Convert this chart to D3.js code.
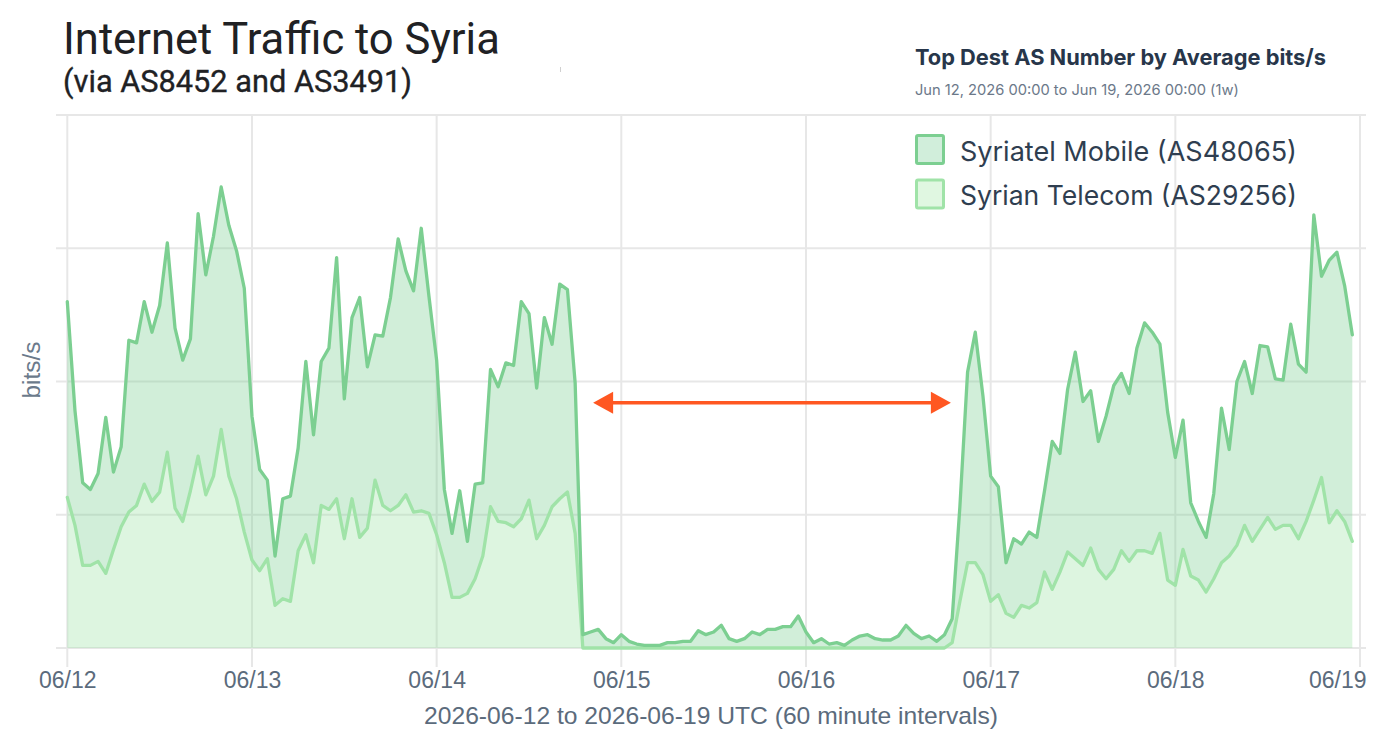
<!DOCTYPE html>
<html><head><meta charset="utf-8">
<script src="https://cdn.jsdelivr.net/npm/d3@7"></script>
<style>html,body{margin:0;padding:0;background:#fff;} svg{display:block;}</style>
</head><body><svg id="chart" width="1397" height="756"></svg>
<script>
// ---------------- data ----------------
const startTime = "2026-06-12T00:00:00Z";
const endTime = "2026-06-19T00:00:00Z";
const intervalHours = 1;
const seriesKeys = ["telecom", "mobile"];
const seriesNames = ["Syriatel Mobile (AS48065)", "Syrian Telecom (AS29256)"];

// Syrian Telecom (AS29256), hourly, bottom layer
const syrianTelecom = [
  11.3, 9.2, 6.2, 6.2, 6.5, 5.6, 7.4, 9.1, 10.2, 10.7, 12.3, 11.0, 11.7, 14.7, 10.5, 9.5, 11.8, 14.4, 11.5, 12.9, 16.4, 12.9, 11.2, 8.7,
  6.6, 5.8, 6.7, 3.2, 3.7, 3.5, 7.3, 8.5, 6.4, 10.7, 10.4, 11.2, 8.2, 11.2, 8.3, 9.0, 12.6, 10.7, 10.3, 10.7, 11.5, 10.2, 10.3, 10.1,
  8.5, 6.4, 3.8, 3.8, 4.1, 5.2, 6.9, 10.6, 9.5, 9.4, 9.1, 9.7, 11.1, 8.2, 9.2, 10.6, 11.2, 11.7, 8.6, 0, 0, 0, 0, 0,
  0, 0, 0, 0, 0, 0, 0, 0, 0, 0, 0, 0, 0, 0, 0, 0, 0, 0, 0, 0, 0, 0, 0, 0,
  0, 0, 0, 0, 0, 0, 0, 0, 0, 0, 0, 0, 0, 0, 0, 0, 0, 0, 0, 0.4, 3.5, 6.4, 6.4, 5.5,
  3.5, 4.0, 2.6, 2.3, 3.2, 3.0, 3.4, 5.7, 4.4, 5.7, 7.2, 6.7, 6.2, 7.5, 5.9, 5.2, 5.9, 7.3, 6.5, 7.3, 7.3, 7.1, 8.6, 5.1,
  4.7, 7.4, 5.4, 5.1, 4.2, 5.2, 6.4, 6.9, 7.7, 9.2, 8.0, 8.9, 9.8, 8.9, 9.2, 9.2, 8.2, 9.5, 11.1, 12.8, 9.4, 10.3, 9.5, 8.0
];
// Syriatel Mobile (AS48065), hourly, stacked on top
const syriatelMobile = [
  14.7, 8.6, 6.2, 5.7, 6.6, 11.7, 5.8, 6.0, 12.9, 12.2, 13.7, 12.7, 14.0, 15.7, 13.5, 12.1, 11.4, 18.2, 16.5, 18.0, 18.2, 18.8, 18.6, 18.3,
  10.8, 7.6, 5.9, 3.7, 7.5, 7.9, 7.7, 13.0, 9.6, 10.8, 12.1, 18.1, 10.5, 13.6, 18.0, 12.1, 10.9, 12.7, 16.0, 20.0, 16.8, 16.6, 21.2, 16.3,
  13.1, 5.5, 4.8, 8.0, 3.9, 7.1, 5.5, 10.3, 10.1, 12.0, 12.1, 16.3, 14.0, 11.3, 15.6, 12.2, 16.1, 15.2, 11.3, 1.0, 1.2, 1.4, 0.7, 0.4,
  1.0, 0.5, 0.3, 0.2, 0.2, 0.2, 0.4, 0.4, 0.5, 0.5, 1.3, 1.0, 1.2, 1.7, 0.7, 0.5, 0.7, 1.2, 1.0, 1.4, 1.4, 1.6, 1.6, 2.4,
  1.2, 0.4, 0.7, 0.3, 0.4, 0.2, 0.6, 0.9, 1.0, 0.7, 0.6, 0.6, 0.9, 1.7, 1.1, 0.7, 0.9, 0.5, 1.0, 1.8, 7.1, 14.3, 17.3, 13.4,
  9.4, 8.1, 3.8, 5.9, 4.6, 5.7, 4.9, 6.1, 11.1, 8.9, 12.2, 15.5, 12.3, 11.8, 9.6, 12.2, 13.8, 13.3, 12.6, 15.2, 17.1, 16.6, 14.2, 12.6,
  9.6, 9.7, 5.5, 4.4, 4.1, 6.4, 11.6, 8.0, 12.3, 12.3, 11.1, 13.8, 12.8, 11.3, 10.9, 15.1, 13.1, 11.2, 21.4, 15.1, 19.7, 19.4, 17.7, 15.5
];
const tickDates = ["2026-06-12", "2026-06-13", "2026-06-14", "2026-06-15", "2026-06-16", "2026-06-17", "2026-06-18", "2026-06-19"];
const tickLabels = ["06/12", "06/13", "06/14", "06/15", "06/16", "06/17", "06/18", "06/19"];
const yTicks = [0, 10, 20, 30, 40];
const outageArrow = ["2026-06-14T20:20:00Z", "2026-06-16T18:50:00Z"];
const outageArrowLevel = 18.4;

// ---------------- layout ----------------
const svg = d3.select("#chart");
const L = 67.3, R = 1360, T = 115, B = 648;
const x = d3.scaleUtc().domain([new Date(startTime), new Date(endTime)]).range([L, R]);
const y = d3.scaleLinear().domain([0, 40]).range([B, T]);

const rows = syrianTelecom.map((v, i) => ({
  time: new Date(new Date(startTime).getTime() + i * intervalHours * 3600e3),
  telecom: v,
  mobile: syriatelMobile[i]
}));
const stacked = d3.stack().keys(seriesKeys)(rows);

const colors = {
  telecom: { line: "#a0e3a8", fill: "rgba(150,224,160,0.32)", legendFill: "#e0f7e1" },
  mobile:  { line: "#7ccf91", fill: "rgba(124,207,145,0.35)", legendFill: "#d1eedb" }
};

function fit(sel, w) {
  const len = sel.node().getComputedTextLength();
  const fs = parseFloat(sel.attr("font-size"));
  sel.attr("font-size", (fs * w / len).toFixed(2));
}

// grid
const grid = svg.append("g");
grid.selectAll(".h").data(yTicks).join("line")
  .attr("x1", 56).attr("x2", 1366)
  .attr("y1", d => y(d)).attr("y2", d => y(d))
  .attr("stroke", "#e7e7e7").attr("stroke-width", 2);
grid.selectAll(".v").data(tickDates).join("line")
  .attr("x1", d => x(new Date(d + "T00:00:00Z"))).attr("x2", d => x(new Date(d + "T00:00:00Z")))
  .attr("y1", T).attr("y2", 667)
  .attr("stroke", "#e7e7e7").attr("stroke-width", 2);

// areas
const area = d3.area().x(d => x(d.data.time)).y0(d => y(d[0])).y1(d => y(d[1]));
const line = d3.line().x(d => x(d.data.time)).y(d => y(d[1]));
svg.append("g").selectAll("path").data(stacked).join("path")
  .attr("d", area).attr("fill", d => colors[d.key].fill);
svg.append("g").selectAll("path").data(stacked).join("path")
  .attr("d", line).attr("fill", "none")
  .attr("stroke", d => colors[d.key].line).attr("stroke-width", 3.3)
  .attr("stroke-linejoin", "round").attr("stroke-linecap", "round");

// x axis
const xAxis = d3.axisBottom(x)
  .tickValues(tickDates.map(d => new Date(d + "T00:00:00Z")))
  .tickFormat((d, i) => tickLabels[i]).tickSize(0);
const gx = svg.append("g").attr("transform", `translate(0,${B})`).call(xAxis);
gx.select(".domain").remove();
gx.selectAll("text")
  .attr("y", 40).attr("dy", 0)
  .attr("font-family", "'Liberation Sans', Arial, sans-serif")
  .attr("font-size", 23).attr("fill", "#5b6b7c");
gx.selectAll("text").filter((d, i) => i === tickLabels.length - 1)
  .attr("text-anchor", "end").attr("x", 6);

const xTitle = svg.append("text").attr("x", 711).attr("y", 724).attr("text-anchor", "middle")
  .attr("font-family", "'Liberation Sans', Arial, sans-serif").attr("font-size", 22)
  .attr("fill", "#5b6b7c").text("2026-06-12 to 2026-06-19 UTC (60 minute intervals)");
fit(xTitle, 574);

const yTitle = svg.append("text").attr("transform", "translate(40,370) rotate(-90)")
  .attr("text-anchor", "middle").attr("font-family", "'Liberation Sans', Arial, sans-serif")
  .attr("font-size", 20).attr("fill", "#6b7a8b").text("bits/s");
fit(yTitle, 57);

// arrow annotation
const ax1 = x(new Date(outageArrow[0])), ax2 = x(new Date(outageArrow[1])), ay = y(outageArrowLevel);
const ag = svg.append("g").attr("fill", "#ff5722");
ag.append("line").attr("x1", ax1 + 15).attr("x2", ax2 - 15).attr("y1", ay).attr("y2", ay)
  .attr("stroke", "#ff5722").attr("stroke-width", 3.5);
ag.append("path").attr("d", `M${ax1},${ay} L${ax1 + 20},${ay - 11} L${ax1 + 20},${ay + 11} Z`);
ag.append("path").attr("d", `M${ax2},${ay} L${ax2 - 20},${ay - 11} L${ax2 - 20},${ay + 11} Z`);

// titles
const title = svg.append("text").attr("x", 63).attr("y", 54)
  .attr("font-family", "Roboto, sans-serif").attr("font-size", 40).attr("font-weight", 400)
  .attr("fill", "#202124").text("Internet Traffic to Syria");
fit(title, 437);
const sub = svg.append("text").attr("x", 63).attr("y", 92)
  .attr("font-family", "Roboto, sans-serif").attr("font-size", 27).attr("font-weight", 400)
  .attr("stroke", "#202124").attr("stroke-width", 0.35)
  .attr("fill", "#202124").text("(via AS8452 and AS3491)");
fit(sub, 349);
svg.append("rect").attr("x", 560).attr("y", 67).attr("width", 1).attr("height", 5).attr("fill", "#d0d0d0");

const head = svg.append("text").attr("x", 915).attr("y", 65)
  .attr("font-family", "Inter, sans-serif").attr("font-size", 20).attr("font-weight", 700)
  .attr("fill", "#27364a").text("Top Dest AS Number by Average bits/s");
fit(head, 411);
const range = svg.append("text").attr("x", 915).attr("y", 95)
  .attr("font-family", "Inter, sans-serif").attr("font-size", 14).attr("font-weight", 400)
  .attr("fill", "#6b7889").text("Jun 12, 2026 00:00 to Jun 19, 2026 00:00 (1w)");
fit(range, 324);

// legend
const legendItems = [
  { name: seriesNames[0], key: "mobile" },
  { name: seriesNames[1], key: "telecom" }
];
const lg = svg.append("g");
legendItems.forEach((it, i) => {
  const yy = 135.5 + i * 44.5;
  lg.append("rect").attr("x", 916.5).attr("y", yy).attr("width", 27).attr("height", 28).attr("rx", 1.5)
    .attr("fill", colors[it.key].legendFill).attr("stroke", colors[it.key].line).attr("stroke-width", 3);
  const t = lg.append("text").attr("x", 960).attr("y", yy + 25)
    .attr("font-family", "Inter, sans-serif").attr("font-size", 26).attr("fill", "#2f3e50").text(it.name);
  fit(t, 337);
});
</script></body></html>
